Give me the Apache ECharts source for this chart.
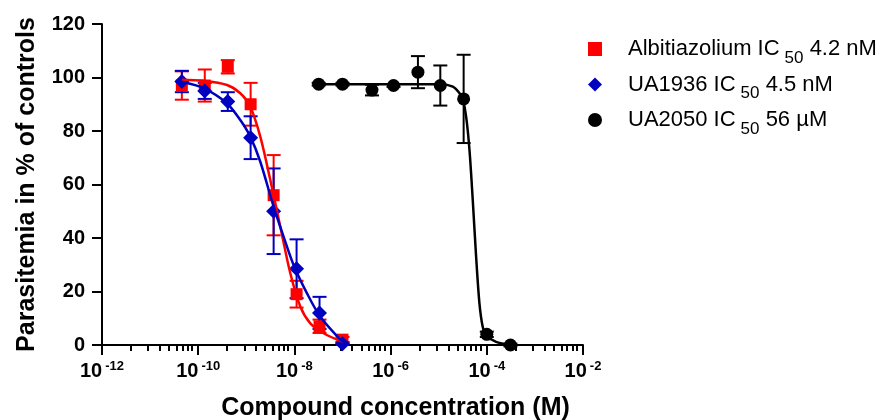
<!DOCTYPE html>
<html><head><meta charset="utf-8">
<script src="https://cdn.jsdelivr.net/npm/echarts@6/dist/echarts.min.js"></script>
<style>html,body{margin:0;padding:0;background:#fff}#c{width:884px;height:420px}</style>
</head><body><div id="c"></div>
<script>
const FONT = '"Liberation Sans", Arial, Helvetica, sans-serif';

// Measured points: concentration (M), mean (% of controls), error (+/-)
const concAU = [4.57e-11, 1.37e-10, 4.12e-10, 1.23e-9, 3.70e-9, 1.11e-8, 3.33e-8, 1.0e-7];
const albMean = [97, 97, 104, 90, 56, 19, 7, 2];
const albErr  = [5.3, 6, 2.5, 8, 15, 5, 2.5, 1];
const uaMean  = [98.5, 95, 91, 77.5, 50, 28.5, 12, 0.5];
const uaErr   = [4, 3, 3.5, 8, 16, 11, 6, 0.5];
const concB   = [3.2e-8, 1.0e-7, 4.1e-7, 1.15e-6, 3.7e-6, 1.08e-5, 3.3e-5, 1.0e-4, 3.1e-4];
const bMean   = [97.5, 97.5, 95.3, 97, 102, 97, 92, 4, 0];
const bErr    = [0.5, 0.5, 2, 0.5, 6, 7.5, 16.5, 1, 0.5];

// Fitted curves: log10(M), %
const albCurveX = [-10.34, -9.888, -9.401, -9.125, -8.917, -8.709, -8.501, -8.293, -8.085, -7.876, -7.669, -7.393, -7.0];
const albCurveY = [99.2, 98.8, 97.2, 94.1, 89.1, 77.9, 61.7, 44.2, 26.8, 14.3, 8.1, 4.4, 1.2];
const uaCurveX  = [-10.34, -9.888, -9.401, -9.125, -8.917, -8.709, -8.432, -8.225, -8.017, -7.738, -7.462, -7.0];
const uaCurveY  = [98.4, 96.0, 90.3, 84.1, 77.9, 68.5, 51.7, 40.5, 29.9, 19.3, 10.6, 1.2];
const bCurveX   = [-7.503, -6.5, -5.5, -4.967, -4.706, -4.567, -4.499, -4.429, -4.360, -4.292, -4.222, -4.153, -4.085, -4.015, -3.807, -3.51];
const bCurveY   = [97.5, 97.5, 97.5, 97.5, 96.6, 94.1, 91.8, 85.3, 72.9, 54.2, 33.0, 15.6, 6.8, 3.7, 1.2, 0];

// Axis ticks
const xTickExp = [-12, -10, -8, -6, -4, -2];
const minorOffsets = [0.6, 0.96, 1.2, 1.39, 1.55, 1.67, 1.78, 1.87];
const yTicks = [0, 20, 40, 60, 80, 100, 120];

const names = ['Albitiazolium', 'UA1936', 'UA2050'];
const legendText = {
  'Albitiazolium': ['Albitiazolium IC', '50', ' 4.2 nM'],
  'UA1936': ['UA1936 IC', '50', ' 4.5 nM'],
  'UA2050': ['UA2050 IC', '50', ' 56 µM']
};
const colors = ['#FF0000', '#0000C0', '#000000'];
const symbols = ['rect', 'diamond', 'circle'];
const symSizes = [12, 15, 13];

const minorTicks = [];
for (let i = 0; i < xTickExp.length - 1; i++) {
  minorOffsets.forEach(o => minorTicks.push(xTickExp[i] + o));
}

function pts(conc, mean, err) {
  return conc.map((c, i) => [Math.log10(c), mean[i], err[i]]);
}
function curve(xs, ys) { return xs.map((x, i) => [x, ys[i]]); }

const groups = [
  { pts: pts(concAU, albMean, albErr), curve: curve(albCurveX, albCurveY) },
  { pts: pts(concAU, uaMean, uaErr), curve: curve(uaCurveX, uaCurveY) },
  { pts: pts(concB, bMean, bErr), curve: curve(bCurveX, bCurveY) }
];

const series = [];
groups.forEach((g, k) => {
  series.push({
    type: 'custom', name: names[k] + ' err', xAxisIndex: 0, yAxisIndex: 0,
    data: g.pts, encode: { x: 0, y: 1 }, silent: true,
    renderItem: function (params, api) {
      const x = api.value(0), y = api.value(1), e = api.value(2);
      const top = api.coord([x, y + e]);
      const bot = api.coord([x, y - e]);
      const hw = 7;
      const st = { stroke: colors[k], lineWidth: 2 };
      return {
        type: 'group', children: [
          { type: 'line', shape: { x1: top[0], y1: top[1], x2: bot[0], y2: bot[1] }, style: st },
          { type: 'line', shape: { x1: top[0] - hw, y1: top[1], x2: top[0] + hw, y2: top[1] }, style: st },
          { type: 'line', shape: { x1: bot[0] - hw, y1: bot[1], x2: bot[0] + hw, y2: bot[1] }, style: st }
        ]
      };
    }
  });
  series.push({
    type: 'line', name: names[k] + ' fit', data: g.curve, showSymbol: false, smooth: 0.3,
    lineStyle: { color: colors[k], width: 2.5 }, silent: true
  });
  series.push({
    type: 'scatter', name: names[k], data: g.pts.map(p => [p[0], p[1]]),
    symbol: symbols[k], symbolSize: symSizes[k],
    itemStyle: { color: colors[k], opacity: 1 }
  });
});

const chart = echarts.init(document.getElementById('c'), null, { renderer: 'canvas' });
chart.setOption({
  animation: false,
  backgroundColor: '#fff',
  textStyle: { fontFamily: FONT },
  grid: { left: 102, right: 301, top: 24, bottom: 75, containLabel: false, outerBoundsMode: 'none' },
  legend: {
    data: names, orient: 'vertical', left: 583, top: 33,
    itemWidth: 14, itemHeight: 14, itemGap: 7,
    formatter: n => '{f|' + legendText[n][0] + '}{s|' + legendText[n][1] + '}{a|' + legendText[n][2] + '}',
    textStyle: {
      fontFamily: FONT, color: '#000',
      rich: {
        f: { fontFamily: FONT, fontSize: 22, lineHeight: 35, color: '#000', padding: [0, 0, 0, 21] },
        a: { fontFamily: FONT, fontSize: 22, lineHeight: 35, color: '#000' },
        s: { fontFamily: FONT, fontSize: 17, lineHeight: 17, verticalAlign: 'bottom', padding: [0, 0, 0, 5], color: '#000' }
      }
    }
  },
  xAxis: [{
    type: 'value', min: -12, max: -2, interval: 2, position: 'bottom',
    axisLine: { show: true, onZero: false, lineStyle: { color: '#000', width: 2 } },
    axisTick: { show: true, length: 10, lineStyle: { color: '#000', width: 2 }, customValues: xTickExp },
    splitLine: { show: false },
    axisLabel: {
      margin: 15, customValues: xTickExp,
      formatter: v => '{b|10}{e|' + v + '}',
      rich: {
        b: { fontFamily: FONT, fontSize: 20, fontWeight: 'bold', lineHeight: 22, color: '#000' },
        e: { fontFamily: FONT, fontSize: 13, fontWeight: 'bold', lineHeight: 13, verticalAlign: 'top', padding: [0, 0, 0, 3], color: '#000' }
      }
    },
    name: 'Compound concentration (M)', nameLocation: 'middle', nameGap: 51,
    nameTextStyle: { fontFamily: FONT, fontSize: 25, fontWeight: 'bold', color: '#000', padding: [0, 0, 0, 106] }
  }, {
    type: 'value', min: -12, max: -2, interval: 2, position: 'bottom',
    axisLine: { show: false },
    axisTick: { show: true, length: 6, lineStyle: { color: '#000', width: 2 }, customValues: minorTicks },
    axisLabel: { show: false }, splitLine: { show: false }
  }],
  yAxis: {
    type: 'value', min: 0, max: 120, interval: 20,
    axisLine: { show: true, lineStyle: { color: '#000', width: 2 } },
    axisTick: { show: true, length: 10, lineStyle: { color: '#000', width: 2 } },
    splitLine: { show: false },
    axisLabel: { margin: 17, fontFamily: FONT, fontSize: 20, fontWeight: 'bold', color: '#000', customValues: yTicks },
    name: 'Parasitemia in % of controls', nameLocation: 'middle', nameGap: 62,
    nameTextStyle: { fontFamily: FONT, fontSize: 25, fontWeight: 'bold', color: '#000' }
  },
  series: series
});
</script>
</body></html>
